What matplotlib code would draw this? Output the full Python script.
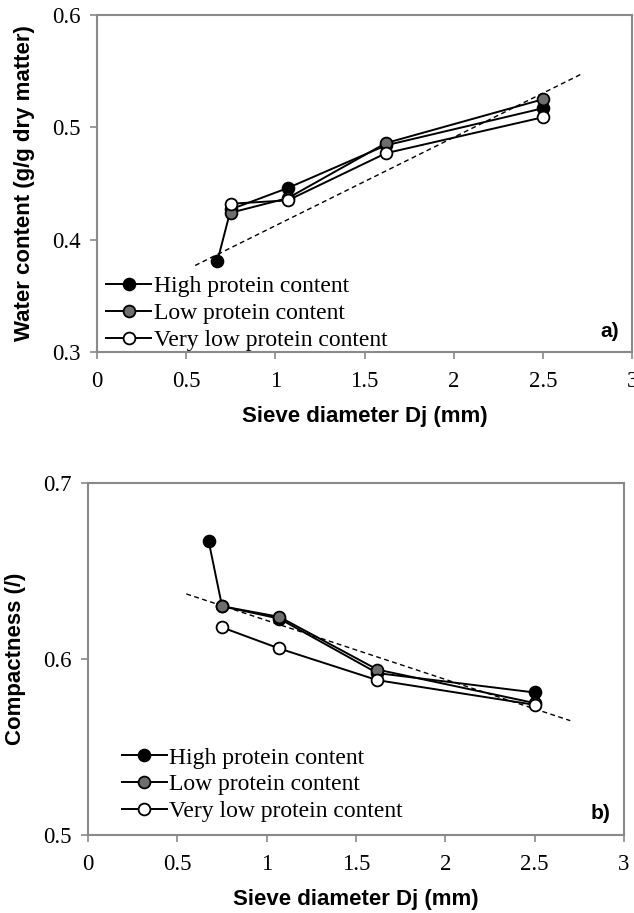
import matplotlib.pyplot as plt
import numpy as np

# sieve diameters (mm)
dj_high = [0.675, 0.75, 1.07, 1.62, 2.5]
dj = [0.75, 1.07, 1.62, 2.5]

# a) water content (g/g dry matter)
water_high = [0.381, 0.427, 0.446, 0.484, 0.517]
water_low = [0.424, 0.437, 0.486, 0.525]
water_vlow = [0.432, 0.435, 0.477, 0.509]
water_trend_x = [0.55, 2.71]
water_trend_y = [0.377, 0.547]

# b) compactness (/)
comp_high = [0.667, 0.630, 0.623, 0.592, 0.581]
comp_low = [0.630, 0.624, 0.594, 0.575]
comp_vlow = [0.618, 0.606, 0.588, 0.574]
comp_trend_x = [0.55, 2.70]
comp_trend_y = [0.637, 0.565]

labels = ['High protein content', 'Low protein content', 'Very low protein content']
fills = ['black', '#6e6e6e', 'white']

serif = ['Liberation Serif', 'DejaVu Serif']
sans = ['Liberation Sans', 'DejaVu Sans']
spine_col = '#8a8a8a'

fig = plt.figure(figsize=(6.34, 9.13), dpi=100)
ax1 = fig.add_axes([0.153, 0.6145, 0.844, 0.369])
ax2 = fig.add_axes([0.139, 0.0854, 0.845, 0.3855])


def draw_panel(ax, xs, series, trend_x, trend_y, ylim, yticks, ylabel, tag, leg_anchor):
    ax.plot(trend_x, trend_y, color='black', linewidth=1.0, linestyle=(0, (3.5, 2.5)), zorder=2)
    for x, y, fc, lab in zip(xs, series, fills, labels):
        ax.plot(x, y, color='black', linewidth=1.4, marker='o', markersize=8.5,
                markerfacecolor=fc, markeredgecolor='black', markeredgewidth=1.3,
                label=lab, zorder=3)
    ax.set_xlim(0, 3)
    ax.set_ylim(*ylim)
    ax.set_xticks([0, 0.5, 1, 1.5, 2, 2.5, 3])
    ax.set_xticklabels(['0', '0.5', '1', '1.5', '2', '2.5', '3'])
    ax.set_yticks(yticks)
    ax.set_yticklabels(['%.1f' % v for v in yticks])
    for lab in ax.get_xticklabels() + ax.get_yticklabels():
        lab.set_family(serif)
        lab.set_fontsize(16.5)
    ax.tick_params(axis='x', direction='out', length=5, width=1.2, color=spine_col, pad=9)
    ax.tick_params(axis='y', direction='out', length=5, width=1.2, color=spine_col, pad=7)
    for sp in ax.spines.values():
        sp.set_color(spine_col)
        sp.set_linewidth(1.5)
    ax.set_xlabel('Sieve diameter Dj (mm)', family=sans, fontweight='bold', fontsize=16, labelpad=10)
    ax.set_ylabel(ylabel, family=sans, fontweight='bold', fontsize=16, labelpad=12)
    ax.text(0.975, 0.06, tag, transform=ax.transAxes, family=sans, fontweight='bold',
            fontsize=15, ha='right', va='center')
    ax.legend(loc='lower left', bbox_to_anchor=leg_anchor, frameon=False, numpoints=1,
              prop={'family': serif, 'size': 17}, handlelength=1.9, handletextpad=0.1,
              labelspacing=0.22, borderaxespad=0)


draw_panel(ax1, [dj_high, dj, dj], [water_high, water_low, water_vlow],
           water_trend_x, water_trend_y, (0.3, 0.6), [0.3, 0.4, 0.5, 0.6],
           'Water content (g/g dry matter)', 'a)', (0.0, -0.025))
draw_panel(ax2, [dj_high, dj, dj], [comp_high, comp_low, comp_vlow],
           comp_trend_x, comp_trend_y, (0.5, 0.7), [0.5, 0.6, 0.7],
           'Compactness (/)', 'b)', (0.045, 0.01))

plt.savefig('out.png', dpi=100)
